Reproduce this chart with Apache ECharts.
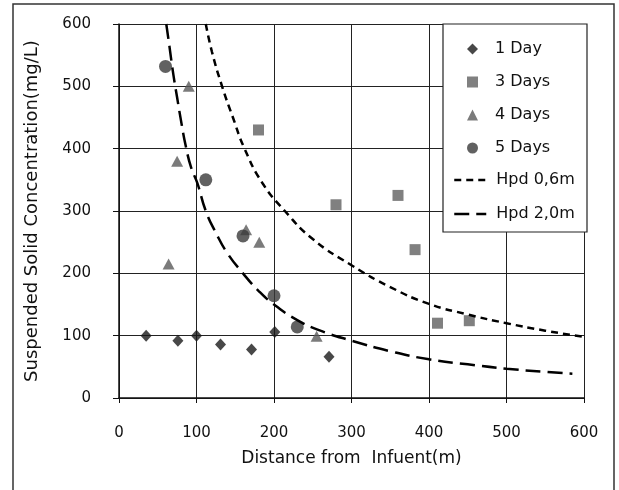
<!DOCTYPE html>
<html>
<head>
<meta charset="utf-8">
<script src="https://cdn.jsdelivr.net/npm/echarts@6/dist/echarts.min.js"></script>
<style>
  html, body { margin: 0; padding: 0; background: #fff; }
  #chart { width: 619px; height: 490px; }
</style>
</head>
<body>
<div id="chart"></div>
<script>
// values
const day1 = [[35, 100], [76, 92], [100, 100], [131, 86], [171, 78], [201, 106], [271, 66]];
const day3 = [[180, 430], [280, 310], [360, 325], [382, 238], [411, 120], [452, 124]];
const day4 = [[64, 215], [75, 380], [90, 500], [164, 270], [181, 250], [255, 99]];
const day5 = [[60, 532], [112, 350], [160, 260], [200, 164], [230, 114]];

const hpd06X = [112, 120, 133, 147, 162, 185, 214, 250, 300, 350, 400, 450, 500, 550, 600];
const hpd06Y = [600, 555, 500, 450, 400, 345, 300, 255, 213, 178, 151, 134, 120, 108, 98];
const hpd20X = [61, 65, 70, 75, 80, 86, 93, 101, 112, 125, 140, 160, 180, 200, 230, 260, 300, 350, 400, 450, 500, 550, 585];
const hpd20Y = [600, 565, 520, 482, 445, 405, 370, 345, 300, 265, 232, 200, 172, 150, 125, 108, 92, 75, 62, 54, 47, 42, 39];

const xTicks = [0, 100, 200, 300, 400, 500, 600];
const yTicks = [0, 100, 200, 300, 400, 500, 600];

const pointNames = ['1 Day', '3 Days', '4 Days', '5 Days'];
const curveNames = ['Hpd 0,6m', 'Hpd 2,0m'];

const font = 'DejaVu Sans';
const pair = (xs, ys) => xs.map((x, i) => [x, ys[i]]);

const chart = echarts.init(document.getElementById('chart'));

chart.setOption({
  animation: false,
  textStyle: { fontFamily: font },
  grid: { left: 119, top: 24, width: 465, height: 374 },
  xAxis: {
    type: 'value',
    min: xTicks[0], max: xTicks[xTicks.length - 1], interval: 100,
    name: 'Distance from  Infuent(m)',
    nameLocation: 'middle', nameGap: 52,
    nameTextStyle: { color: '#111', fontSize: 17, fontFamily: font },
    axisLine: { show: true, lineStyle: { color: '#111', width: 1.5 } },
    axisTick: { show: true, length: 5, lineStyle: { color: '#111' } },
    axisLabel: { color: '#111', fontSize: 15, margin: 28, fontFamily: font },
    splitLine: { show: true, lineStyle: { color: '#222', width: 1 } }
  },
  yAxis: {
    type: 'value',
    min: yTicks[0], max: yTicks[yTicks.length - 1], interval: 100,
    name: 'Suspended Solid Concentration(mg/L)',
    nameLocation: 'middle', nameGap: 78,
    nameTextStyle: { color: '#111', fontSize: 18, fontFamily: font },
    axisLine: { show: true, lineStyle: { color: '#111', width: 1.5 } },
    axisTick: { show: true, length: 6, lineStyle: { color: '#111' } },
    axisLabel: { color: '#111', fontSize: 15, margin: 28, fontFamily: font },
    splitLine: { show: true, lineStyle: { color: '#222', width: 1 } }
  },
  graphic: [
    { type: 'rect', z: -1, shape: { x: 13, y: 4, width: 601, height: 500 },
      style: { fill: '#fff', stroke: '#333', lineWidth: 1.5 } },
    { type: 'rect', z: 9, shape: { x: 443, y: 24, width: 144, height: 208 },
      style: { fill: '#fff', stroke: '#222', lineWidth: 1.2 } }
  ],
  legend: [
    {
      z: 10,
      orient: 'vertical',
      left: 467, top: 41,
      padding: 0,
      itemWidth: 11, itemHeight: 11, itemGap: 17,
      textStyle: { color: '#111', fontSize: 16, fontFamily: font, padding: [0, 0, 0, 12] },
      data: pointNames
    },
    {
      z: 10,
      orient: 'vertical',
      left: 453, top: 172,
      padding: 0,
      itemWidth: 32, itemHeight: 12, itemGap: 18,
      itemStyle: { opacity: 0 },
      lineStyle: { width: 2.5 },
      textStyle: { color: '#111', fontSize: 16, fontFamily: font, padding: [0, 0, 0, 5] },
      data: curveNames
    }
  ],
  series: [
    { name: pointNames[0], type: 'scatter', symbol: 'diamond', symbolSize: [11, 12],
      itemStyle: { color: '#1a1a1a' }, data: day1 },
    { name: pointNames[1], type: 'scatter', symbol: 'rect', symbolSize: 11,
      itemStyle: { color: '#606060' }, data: day3 },
    { name: pointNames[2], type: 'scatter', symbol: 'triangle', symbolSize: [12, 11],
      itemStyle: { color: '#5a5a5a' }, data: day4 },
    { name: pointNames[3], type: 'scatter', symbol: 'circle', symbolSize: 13,
      itemStyle: { color: '#3a3a3a' }, data: day5 },
    { name: curveNames[0], type: 'line', smooth: true, symbol: 'none',
      lineStyle: { color: '#000', width: 2.5, type: [7, 5] },
      itemStyle: { color: '#000' }, data: pair(hpd06X, hpd06Y) },
    { name: curveNames[1], type: 'line', smooth: true, symbol: 'none',
      lineStyle: { color: '#000', width: 2.5, type: [15, 7] },
      itemStyle: { color: '#000' }, data: pair(hpd20X, hpd20Y) }
  ]
});
</script>
</body>
</html>
